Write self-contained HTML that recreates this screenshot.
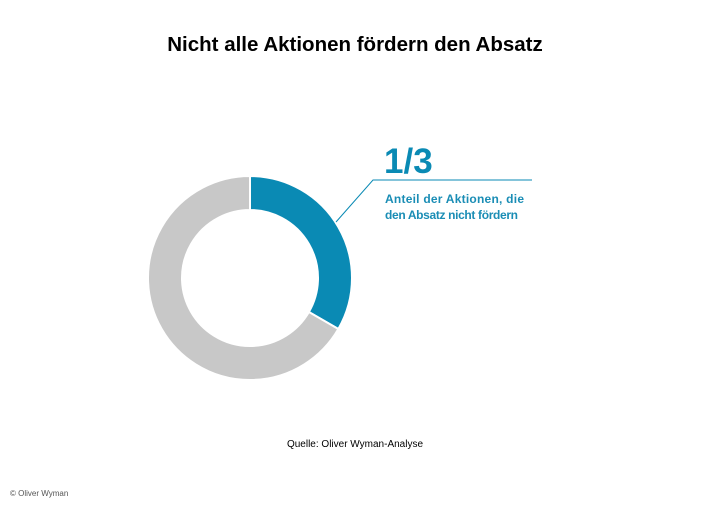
<!DOCTYPE html>
<html><head><meta charset="utf-8"><style>
body{margin:0;width:710px;height:507px;background:#fff;overflow:hidden;font-family:"Liberation Sans",sans-serif}
</style></head><body>
<svg width="710" height="507">
<text x="355" y="51" text-anchor="middle" font-size="20.5" font-weight="bold" fill="#000">Nicht alle Aktionen fördern den Absatz</text>
<g id="donut"></g>
<polyline points="336,222 373,180 532,180" fill="none" stroke="#0a8ab4" stroke-width="1"/>
<text x="384" y="173" font-size="35" font-weight="bold" fill="#0a8ab4">1/3</text>
<text x="385" y="203" font-size="12" font-weight="bold" fill="#1a8db5" textLength="139">Anteil der Aktionen, die</text>
<text x="385" y="219" font-size="12" font-weight="bold" fill="#1a8db5" textLength="133">den Absatz nicht fördern</text>
<text x="355" y="447" text-anchor="middle" font-size="10" fill="#000">Quelle: Oliver Wyman-Analyse</text>
<text x="10" y="496" font-size="8" fill="#555">© Oliver Wyman</text>
</svg>
<script>
const labels=["nicht fördernd","fördernd"];
const values=[1/3,2/3];
const colors=["#0a8ab4","#c8c8c8"];
const cx=250,cy=278,R=102,r=68;
const g=document.getElementById('donut');
const total=values.reduce((a,b)=>a+b,0);
let a0=0;
values.forEach((v,i)=>{
  const a1=a0+v/total*2*Math.PI;
  const p=(rad,a)=>[cx+rad*Math.sin(a),cy-rad*Math.cos(a)];
  const large=(a1-a0)>Math.PI?1:0;
  const [x1,y1]=p(R,a0),[x2,y2]=p(R,a1),[x3,y3]=p(r,a1),[x4,y4]=p(r,a0);
  const path=document.createElementNS('http://www.w3.org/2000/svg','path');
  path.setAttribute('d',`M${x1},${y1}A${R},${R} 0 ${large} 1 ${x2},${y2}L${x3},${y3}A${r},${r} 0 ${large} 0 ${x4},${y4}Z`);
  path.setAttribute('fill',colors[i]);
  path.setAttribute('stroke','#fff');
  path.setAttribute('stroke-width','2');
  
  
  g.appendChild(path);
  a0=a1;
});
</script>
</body></html>
